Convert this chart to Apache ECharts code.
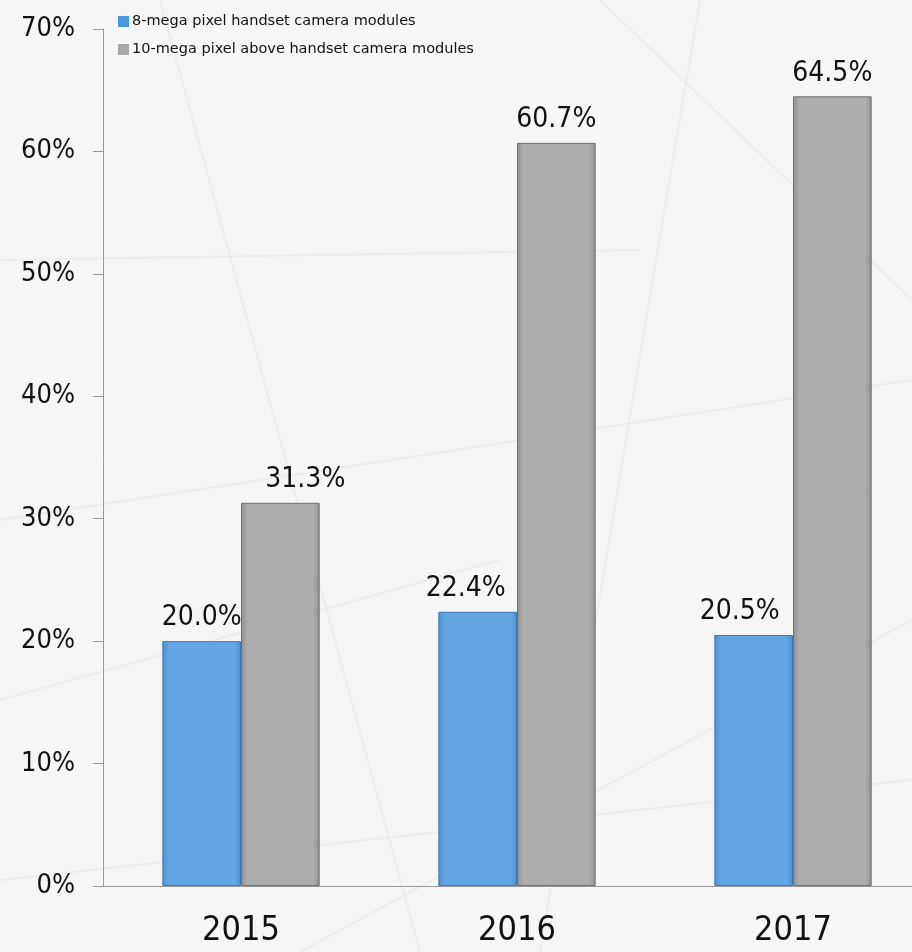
<!DOCTYPE html>
<html><head><meta charset="utf-8">
<script src="https://cdn.jsdelivr.net/npm/echarts@6/dist/echarts.min.js"></script>
<style>html,body{margin:0;padding:0;background:#f6f6f6;overflow:hidden}#c{width:931px;height:952px}</style>
</head><body><div id="c"></div>
<script>
const categories = ['2015', '2016', '2017'];
const series8mp = [20.0, 22.4, 20.5];
const series10mp = [31.3, 60.7, 64.5];
const seriesNames = ['8-mega pixel handset camera modules', '10-mega pixel above handset camera modules'];
const yTicks = [0, 10, 20, 30, 40, 50, 60, 70];

const chart = echarts.init(document.getElementById('c'));
const font = 'DejaVu Sans Condensed';
// horizontal nudges of the value labels as placed in the original
const labelShift = [[0, -12, -14], [25, 0, 0]];
function barSeries(idx, data, color, border) {
  return {
    name: seriesNames[idx], type: 'bar', barGap: '0%', barCategoryGap: '43%',
    data: data.map((v, i) => ({value: v, label: {offset: [labelShift[idx][i], 0]}})),
    itemStyle: {
      color: new echarts.graphic.LinearGradient(0, 0, 1, 0, [
        {offset: 0, color: color[0]}, {offset: 0.08, color: color[1]},
        {offset: 0.92, color: color[1]}, {offset: 1, color: color[0]}]),
      borderColor: border, borderWidth: 1
    },
    label: {show: true, position: 'top', distance: 9, color: '#111', fontFamily: font, fontSize: 28,
      formatter: p => p.value.toFixed(1) + '%'}
  };
}
const deco = [
  [[0,260],[640,250]], [[0,520],[912,380]], [[160,0],[420,952]], [[0,700],[500,560]],
  [[600,0],[912,300]], [[300,952],[912,620]], [[0,880],[912,780]], [[700,0],[540,952]]
].map(pts => ({type: 'polyline', silent: true, z: -10, shape: {points: pts}, style: {stroke: 'rgba(150,150,150,0.09)', lineWidth: 2, fill: null}}));
chart.setOption({
  backgroundColor: '#f6f6f6',
  animation: false,
  graphic: deco,
  legend: {
    orient: 'vertical', left: 113, top: 9, itemWidth: 11, itemHeight: 11, itemGap: 13, itemStyle: {borderWidth: 0},
    textStyle: {fontFamily: 'DejaVu Sans', fontSize: 14.5, color: '#111', padding: [0, 0, 0, -2]},
    data: [{name: seriesNames[0], icon: 'rect', itemStyle: {color: '#4a97da'}}, {name: seriesNames[1], icon: 'rect', itemStyle: {color: '#a8a8a8'}}]
  },
  grid: {left: 103, top: 29, bottom: 66, right: 0},
  xAxis: {
    type: 'category', data: categories,
    axisLine: {lineStyle: {color: '#999'}}, axisTick: {show: false},
    axisLabel: {fontFamily: font, fontSize: 34, color: '#111', margin: 28}
  },
  yAxis: {
    type: 'value', min: 0, max: 70, interval: 10,
    axisLine: {show: true, lineStyle: {color: '#999'}},
    axisTick: {show: true, length: 10, lineStyle: {color: '#999'}},
    splitLine: {show: false},
    axisLabel: {fontFamily: font, fontSize: 27, color: '#111', margin: 28, formatter: v => yTicks.includes(v) ? v + '%' : ''}
  },
  series: [
    barSeries(0, series8mp, ['#4f8fcc', '#62a5e2'], '#3b78b5'),
    barSeries(1, series10mp, ['#8f8f8f', '#adadad'], '#6e6e6e')
  ]
});
</script></body></html>
